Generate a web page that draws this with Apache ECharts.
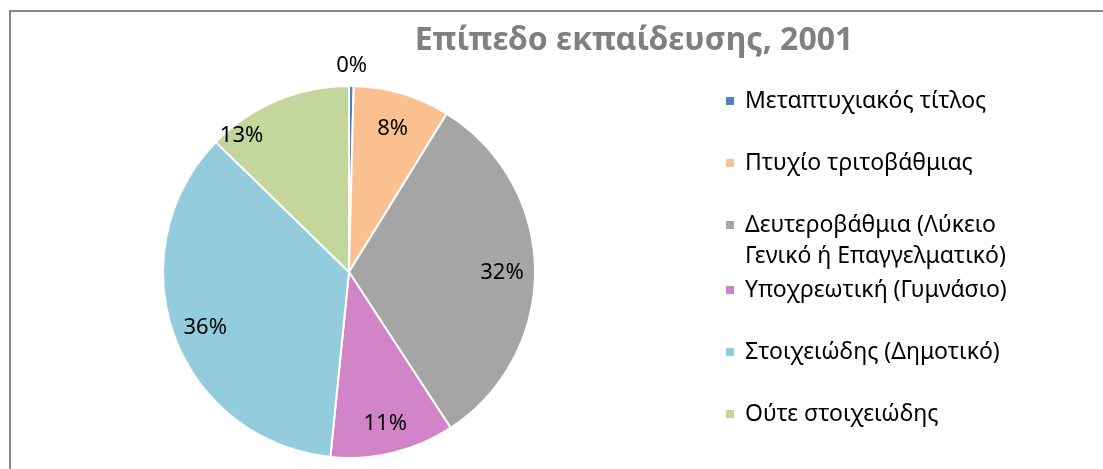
<!DOCTYPE html>
<html><head><meta charset="utf-8">
<script src="https://cdn.jsdelivr.net/npm/echarts@6/dist/echarts.min.js"></script>
<style>html,body{margin:0;padding:0;background:#fff}#c{width:1103px;height:469px}</style>
</head><body><div id="c"></div>
<script>
const titleText = 'Επίπεδο εκπαίδευσης, 2001';
const categories = [
  'Μεταπτυχιακός τίτλος',
  'Πτυχίο τριτοβάθμιας',
  'Δευτεροβάθμια (Λύκειο\nΓενικό ή Επαγγελματικό)',
  'Υποχρεωτική (Γυμνάσιο)',
  'Στοιχειώδης (Δημοτικό)',
  'Ούτε στοιχειώδης'
];
const values = [0.4, 8.4, 32.0, 10.8, 35.7, 12.7];
const colors = ['#4F81BD', '#FAC090', '#A5A5A5', '#D284C8', '#93CDDD', '#C3D69B'];

const FONT = 'Noto Sans';
const FS = 23;
const LFS = 22;
const chart = echarts.init(document.getElementById('c'), null, {renderer: 'canvas'});

const pieData = categories.map((n, i) => ({name: n, value: values[i], itemStyle: {color: colors[i]}}));
const labelData = categories.map((n, i) => {
  const d = {name: n, value: values[i]};
  if (i === 0) {
    d.label = {position: 'outside'};
    d.labelLine = {show: false, length: 22, length2: 0};
  }
  return d;
});

const legendText = {fontFamily: FONT, fontSize: FS, color: '#000', lineHeight: 31, padding: [0, 0, 0, 5]};
const legendBase = {orient: 'vertical', left: 724, padding: 0, itemWidth: 10, itemHeight: 10, itemGap: 31, icon: 'rect', textStyle: legendText, selectedMode: false};

chart.setOption({
  animation: false,
  color: colors,
  graphic: [
    {type: 'rect', shape: {x: 10, y: 11, width: 1200, height: 600}, style: {fill: 'none', stroke: '#878787', lineWidth: 2}, silent: true},
    {type: 'text', x: 634, y: 41, silent: true, style: {text: titleText, align: 'center', verticalAlign: 'middle', fontFamily: FONT, fontSize: 32, fontWeight: 'bold', fill: '#808080'}}
  ],
  legend: [
    Object.assign({}, legendBase, {top: 85.5, data: categories.slice(0, 2)}),
    Object.assign({}, legendBase, {top: 178.5, data: [categories[2]], formatter: name => '\n' + name}),
    Object.assign({}, legendBase, {top: 274.5, data: categories.slice(3)})
  ],
  series: [
    {
      type: 'pie', center: [349, 272], radius: 186, startAngle: 90, clockwise: true,
      label: {show: false}, labelLine: {show: false},
      itemStyle: {borderColor: '#fff', borderWidth: 2},
      emphasis: {disabled: true}, silent: true,
      data: pieData
    },
    {
      type: 'pie', center: [349, 272], radius: [114, 186], startAngle: 90, clockwise: true,
      avoidLabelOverlap: false, silent: true, emphasis: {disabled: true},
      itemStyle: {color: 'rgba(0,0,0,0)', borderWidth: 0},
      label: {show: true, position: 'inside', color: '#000', fontFamily: FONT, fontSize: LFS,
        formatter: p => Math.round(p.percent) + '%'},
      labelLine: {show: false},
      labelLayout: function (p) {
        if (p.dataIndex === 0) return {align: 'center', dx: -5, dy: 2};
        if (p.dataIndex === 5) return {dx: -48, dy: 5};
        return {dy: 3};
      },
      data: labelData
    }
  ]
});
</script></body></html>
